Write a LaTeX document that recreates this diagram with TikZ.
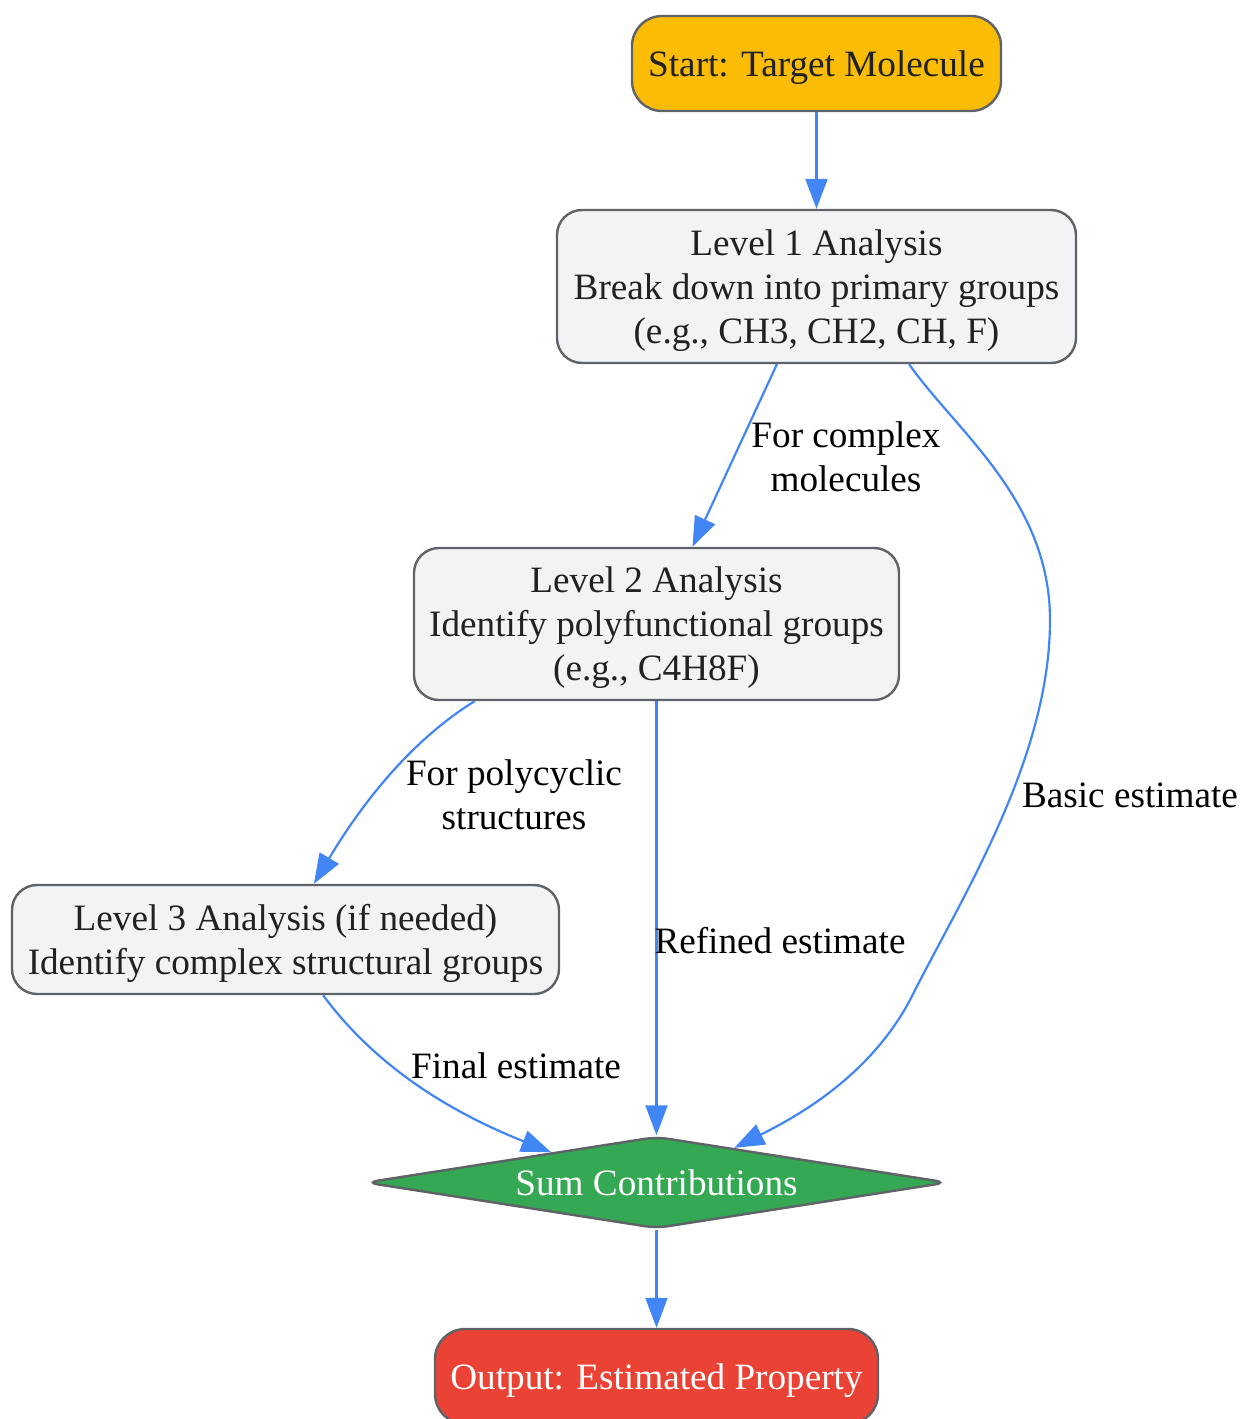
\documentclass[tikz,border=0pt]{standalone}
\usepackage{fontspec}
\setmainfont{Liberation Serif}
\usepackage{xcolor}
\usetikzlibrary{arrows.meta,shapes.geometric}

\definecolor{gborder}{HTML}{5F6368}
\definecolor{gfill}{HTML}{F1F3F4}
\definecolor{gtext}{HTML}{202124}
\definecolor{gyellow}{HTML}{FBBC05}
\definecolor{ggreen}{HTML}{34A853}
\definecolor{gred}{HTML}{EA4335}
\definecolor{gblue}{HTML}{4285F4}

\begin{document}
\begin{tikzpicture}[x=0.5pt, y=-0.5pt,
	every node/.style={font=\fontsize{18.6}{22}\selectfont, align=center, inner sep=0pt},
	box/.style={draw=gborder, line width=1.2pt, fill=gfill, text=gtext, rounded corners=12.5pt, text depth=0pt},
	decision/.style={diamond, draw=gborder, line width=1.2pt, fill=ggreen, text=white, shape aspect=6.3, rounded corners=6pt, text depth=-1.5pt},
	lbl/.style={text=black},
	flow/.style={draw=gblue, line width=1.1pt, -{Triangle[length=15pt,width=11pt]}}]
		\useasboundingbox (0,0) rectangle (1241,1419);
		\node[box, fill=gyellow, rounded corners=15pt, minimum width=184.5pt, minimum height=47.5pt] (start) at (816.5,63.5) {Start: Target Molecule};
		\node[box, minimum width=259.5pt, minimum height=76.5pt] (lvlone) at (816.5,286.5) {Level 1 Analysis\\Break down into primary groups\\(e.g., CH3, CH2, CH, F)};
		\node[box, minimum width=242.5pt, minimum height=76pt] (lvltwo) at (656.5,624) {Level 2 Analysis\\Identify polyfunctional groups\\(e.g., C4H8F)};
		\node[box, minimum width=273.5pt, minimum height=54.5pt] (lvlthree) at (285.5,939.5) {Level 3 Analysis (if needed)\\Identify complex structural groups};
		\node[decision, minimum width=291pt, minimum height=46pt] (sum) at (656.5,1182.5) {Sum Contributions};
		\node[box, fill=gred, text=white, rounded corners=15pt, minimum width=221.5pt, minimum height=47.5pt] (output) at (656.5,1376.5) {Output: Estimated Property};

		\draw[flow] (start) -- (lvlone);
		\draw[flow] (lvlone.-117) -- (lvltwo.65);
		\draw[flow] (lvlone.-40) .. controls (955,430) and (1050,500) .. (1050,620) .. controls (1050,760) and (960,900) .. (910,1000) .. controls (870,1075) and (800,1115) .. (sum.24);
		\draw[flow] (lvltwo.-157) .. controls (420,735) and (370,790) .. (lvlthree.63);
		\draw[flow] (lvltwo) -- (sum);
		\draw[flow] (lvlthree.-56) .. controls (360,1045) and (420,1100) .. (sum.164);
		\draw[flow] (sum) -- (output);

		\node[lbl] (lblcomplex) at (846,457) {For complex\\molecules};
		\node[lbl] (lblbasic) at (1130,795) {Basic estimate};
		\node[lbl] (lblpoly) at (514,795) {For polycyclic\\structures};
		\node[lbl] (lblrefined) at (780,941) {Refined estimate};
		\node[lbl] (lblfinal) at (516,1066) {Final estimate};
	\end{tikzpicture}
\end{document}
